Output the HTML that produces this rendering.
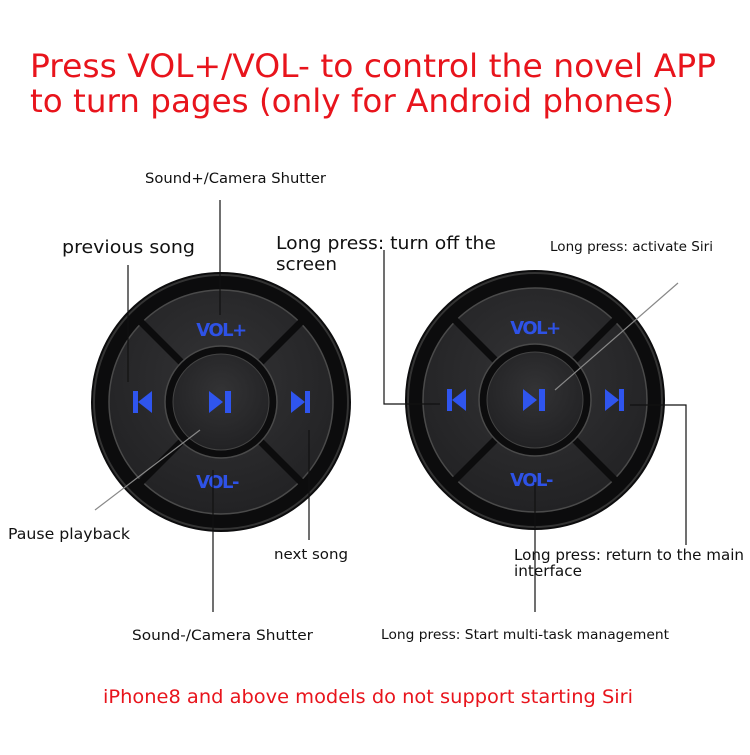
<!DOCTYPE html>
<html><head><style>
body{margin:0;background:#fff;}
</style></head><body>
<svg width="750" height="750" viewBox="0 0 750 750" xmlns="http://www.w3.org/2000/svg" font-family="DejaVu Sans, Liberation Sans, sans-serif">
<defs>
<radialGradient id="key" cx="50%" cy="40%" r="60%"><stop offset="0" stop-color="#333335"/><stop offset="1" stop-color="#222224"/></radialGradient>
<g id="btn">
  <circle r="130" fill="#0c0c0d"/>
  <circle r="127" fill="none" stroke="#333" stroke-width="2"/>
  <circle r="112" fill="url(#key)" stroke="#4a4a4a" stroke-width="1.5"/>
  <line x1="-80" y1="-80" x2="80" y2="80" stroke="#0c0c0d" stroke-width="7"/>
  <line x1="80" y1="-80" x2="-80" y2="80" stroke="#0c0c0d" stroke-width="7"/>
  <circle r="56" fill="#0c0c0d" stroke="#4a4a4a" stroke-width="1.5"/>
  <circle r="48" fill="url(#key)" stroke="#444" stroke-width="1"/>
  <text x="0" y="-66" text-anchor="middle" font-size="18" font-weight="bold" fill="#2e52e6" letter-spacing="-1.5">VOL+</text>
  <text x="-4" y="86" text-anchor="middle" font-size="18" font-weight="bold" fill="#2e52e6" letter-spacing="-1.5">VOL-</text>
  <g fill="#2f55ee">
    <rect x="-88" y="-11" width="5" height="22"/><polygon points="-83,0 -69,-11 -69,11"/>
    <polygon points="70,-11 84,0 70,11"/><rect x="84" y="-11" width="5" height="22"/>
    <polygon points="-12,-11 2,0 -12,11"/><rect x="4" y="-11" width="6" height="22"/>
  </g>
</g>
</defs>
<text x="30" y="77" font-size="32" fill="#e8141c" textLength="686" lengthAdjust="spacingAndGlyphs">Press VOL+/VOL- to control the novel APP</text>
<text x="30" y="112" font-size="32" fill="#e8141c" textLength="644" lengthAdjust="spacingAndGlyphs">to turn pages (only for Android phones)</text>

<use href="#btn" x="221" y="402"/>
<use href="#btn" x="535" y="400"/>

<g stroke="#111" stroke-width="1.2" fill="none">
  <line x1="128" y1="265" x2="128" y2="382"/>
  <line x1="220" y1="200" x2="220" y2="315"/>
  <line x1="309" y1="430" x2="309" y2="540"/>
  <line x1="213" y1="470" x2="213" y2="612"/>
  <polyline points="384,250 384,404 440,404"/>
  <polyline points="630,405 686,405 686,545"/>
  <line x1="535" y1="482" x2="535" y2="612"/>
</g>
<g stroke="#888" stroke-width="1.2">
  <line x1="95" y1="510" x2="200" y2="430"/>
  <line x1="678" y1="283" x2="555" y2="390"/>
</g>

<g fill="#111" lengthAdjust="spacingAndGlyphs">
<text x="145" y="183" font-size="14" textLength="181" lengthAdjust="spacingAndGlyphs">Sound+/Camera Shutter</text>
<text x="62" y="253" font-size="18" textLength="133" lengthAdjust="spacingAndGlyphs">previous song</text>
<text x="276" y="249" font-size="18" textLength="220" lengthAdjust="spacingAndGlyphs">Long press: turn off the</text>
<text x="276" y="270" font-size="18" textLength="61" lengthAdjust="spacingAndGlyphs">screen</text>
<text x="550" y="251" font-size="13" textLength="163" lengthAdjust="spacingAndGlyphs">Long press: activate Siri</text>
<text x="8" y="539" font-size="15" textLength="122" lengthAdjust="spacingAndGlyphs">Pause playback</text>
<text x="274" y="559" font-size="14" textLength="74" lengthAdjust="spacingAndGlyphs">next song</text>
<text x="514" y="560" font-size="15" textLength="230" lengthAdjust="spacingAndGlyphs">Long press: return to the main</text>
<text x="514" y="576" font-size="15" textLength="68" lengthAdjust="spacingAndGlyphs">interface</text>
<text x="132" y="640" font-size="14" textLength="181" lengthAdjust="spacingAndGlyphs">Sound-/Camera Shutter</text>
<text x="381" y="639" font-size="13" textLength="288" lengthAdjust="spacingAndGlyphs">Long press: Start multi-task management</text>
</g>
<text x="103" y="703" font-size="19" fill="#e8141c" textLength="530" lengthAdjust="spacingAndGlyphs">iPhone8 and above models do not support starting Siri</text>
</svg>
</body></html>
